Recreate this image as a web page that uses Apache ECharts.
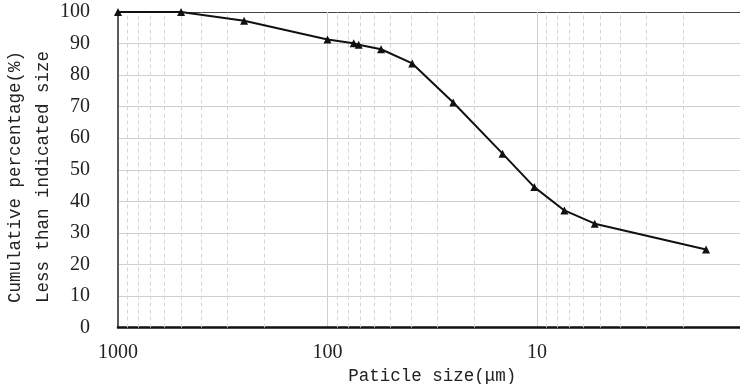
<!DOCTYPE html>
<html>
<head>
<meta charset="utf-8">
<script src="https://cdn.jsdelivr.net/npm/echarts@6/dist/echarts.min.js"></script>
<style>html,body{margin:0;padding:0;background:#fff}#c{width:740px;height:384px}</style>
</head>
<body>
<div id="c"></div>
<script>
// Particle size (μm) and cumulative passing (%)
const sizes = [1000, 500, 250, 100, 75, 71, 55.5, 39.4, 25.1, 14.6, 10.3, 7.4, 5.3, 1.56];
const cumulative = [100, 100, 97.2, 91.3, 90.1, 89.6, 88.2, 83.7, 71.3, 55.1, 44.5, 37.1, 32.9, 24.7];
const xTickLabels = [1000, 100, 10, 1];
const yTicks = [0, 10, 20, 30, 40, 50, 60, 70, 80, 90, 100];
const xName = 'Paticle size(μm)';
const yNameLines = ['Cumulative percentage(%)', 'Less than indicated size'];

// minor log gridline positions (2..9 in each decade)
const minorX = [];
[1, 10, 100].forEach(d => { for (let k = 2; k <= 9; k++) minorX.push(k * d); });

const chart = echarts.init(document.getElementById('c'), null, {renderer: 'canvas'});
const splitColors = yTicks.map((v, i) => i === yTicks.length - 1 ? '#444' : '#d0d0d0');

chart.setOption({
  animation: false,
  grid: {left: 118, right: -6.5, top: 12, bottom: 56.5, containLabel: false, outerBoundsMode: 'none'},
  xAxis: {
    type: 'log', logBase: 10, min: 1, max: 1000, inverse: true,
    name: xName, nameLocation: 'middle', nameGap: 30,
    nameTextStyle: {fontFamily: 'Liberation Mono', fontSize: 17.5, color: '#222'},
    axisLine: {show: true, onZero: false, lineStyle: {color: '#111', width: 2.5}},
    axisTick: {show: false},
    axisLabel: {
      fontFamily: 'Liberation Serif', fontSize: 20, color: '#222', margin: 15,
      formatter: v => (xTickLabels.indexOf(Math.round(v)) >= 0 ? String(Math.round(v)) : '')
    },
    splitLine: {show: true, lineStyle: {color: '#cfcfcf', width: 1}}
  },
  yAxis: {
    type: 'value', min: 0, max: 100, interval: 10,
    axisLine: {show: true, lineStyle: {color: '#5a5a5a', width: 2}},
    axisTick: {show: false},
    axisLabel: {fontFamily: 'Liberation Serif', fontSize: 20, color: '#222', margin: 28},
    splitLine: {show: true, lineStyle: {color: splitColors, width: 1}}
  },
  graphic: [{
    type: 'text', x: 1, y: 303, rotation: Math.PI / 2,
    style: {
      text: yNameLines.join('\n'), x: 0, y: 0, align: 'left', verticalAlign: 'top',
      font: '17.5px "Liberation Mono"', lineHeight: 28, fill: '#222'
    }
  }],
  series: [{
    type: 'line',
    data: sizes.map((s, i) => [s, cumulative[i]]),
    symbol: 'triangle', symbolSize: 8,
    lineStyle: {color: '#111', width: 2},
    itemStyle: {color: '#111'},
    z: 5,
    markLine: {
      silent: true, symbol: 'none', animation: false,
      label: {show: false},
      lineStyle: {color: '#d6d6d6', width: 1, type: [4, 3]},
      data: minorX.map(v => ({xAxis: v}))
    }
  }]
});
</script>
</body>
</html>
